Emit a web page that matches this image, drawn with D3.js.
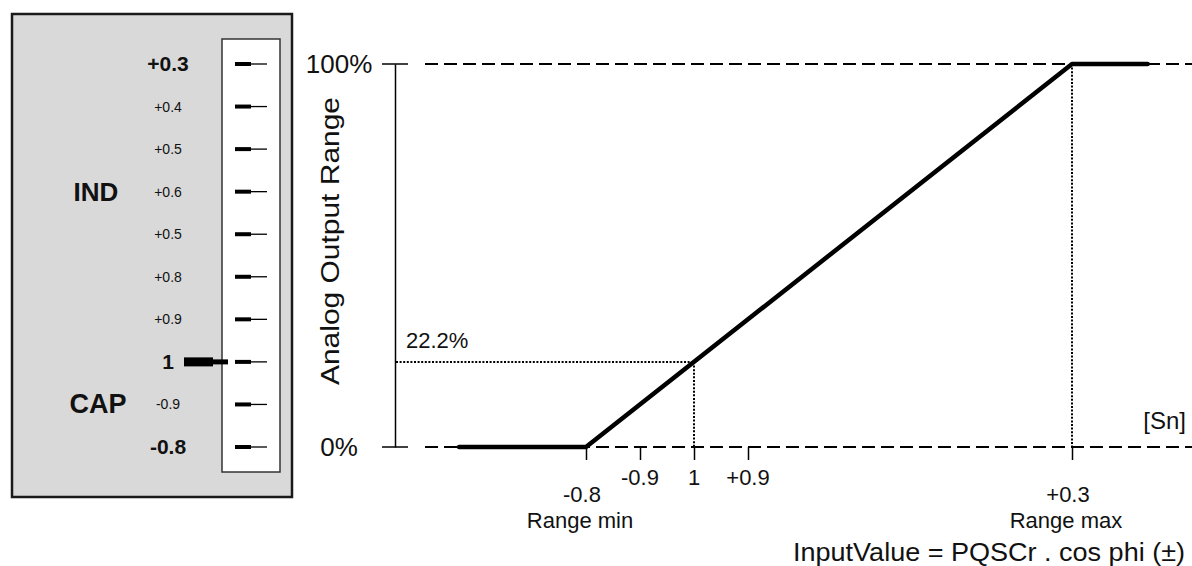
<!DOCTYPE html>
<html>
<head>
<meta charset="utf-8">
<script src="https://cdn.jsdelivr.net/npm/d3@7"></script>
<style>
  html, body { margin: 0; padding: 0; background: #fff; }
  svg { display: block; font-family: "Liberation Sans", Arial, Helvetica, sans-serif; }
</style>
</head>
<body>
<svg id="chart" width="1192" height="566"></svg>
<script>
// ---------------- data ----------------
// Selector scale (left panel), top to bottom
const scaleLabels = ["+0.3", "+0.4", "+0.5", "+0.6", "+0.5", "+0.8", "+0.9", "1", "-0.9", "-0.8"];
const scaleBold   = [true, false, false, false, false, false, false, true, false, true];
const selectedLabel = "1";
const groupLabels = ["IND", "CAP"];
const groupAt     = ["+0.6", "-0.9"];

// Main chart: normalized input position for each cos phi tick
const xTickPos    = [-0.2, -0.1, 0, 0.1, 0.7];
const xTickLabels = ["-0.8", "-0.9", "1", "+0.9", "+0.3"];
const xSubLabels  = ["Range min", "", "", "", "Range max"];
const xLowLabel   = [true, false, false, false, true];

// Output curve (input position -> % of analog output)
const curveX = [-0.435, -0.2, 0.7, 0.84];
const curveY = [0, 0, 100, 100];

const yTickValues = [0, 100];
const yTickLabels = ["0%", "100%"];

const markX = 0;       // cos phi = 1
const markY = 22.2;    // %
const markLabel = "22.2%";

// ---------------- drawing ----------------
const svg = d3.select("#chart");

// Left panel
const rowY = d3.scalePoint().domain(scaleLabels.map((d, i) => i)).range([64, 447]);

svg.append("rect").attr("x", 12).attr("y", 14).attr("width", 280).attr("height", 483)
  .attr("fill", "#d9d9d9").attr("stroke", "#1a1a1a").attr("stroke-width", 2.5);
svg.append("rect").attr("x", 222).attr("y", 39).attr("width", 58).attr("height", 433)
  .attr("fill", "#fff").attr("stroke", "#333").attr("stroke-width", 1.5);

const rows = svg.append("g").selectAll("g").data(scaleLabels).join("g")
  .attr("transform", (d, i) => `translate(0,${rowY(i)})`);
rows.append("rect").attr("x", 235).attr("y", -2).attr("width", 16).attr("height", 4).attr("fill", "#000");
rows.append("line").attr("x1", 251).attr("x2", 267).attr("y1", 0).attr("y2", 0)
  .attr("stroke", "#000").attr("stroke-width", 1.3);
rows.append("text").attr("x", 168).attr("y", (d, i) => scaleBold[i] ? 7 : 5)
  .attr("text-anchor", "middle")
  .attr("font-size", (d, i) => scaleBold[i] ? 21 : 14)
  .attr("font-weight", (d, i) => scaleBold[i] ? "bold" : "normal")
  .attr("fill", "#111")
  .text(d => d);

// pointer at the selected value
const selY = rowY(scaleLabels.indexOf(selectedLabel));
svg.append("rect").attr("x", 184).attr("y", selY - 4.5).attr("width", 29).attr("height", 9).attr("fill", "#000");
svg.append("rect").attr("x", 212).attr("y", selY - 2.5).attr("width", 16).attr("height", 5).attr("fill", "#000");

svg.append("g").selectAll("text").data(groupLabels).join("text")
  .attr("x", (d, i) => i ? 98 : 96).attr("y", (d, i) => rowY(scaleLabels.indexOf(groupAt[i])) + 9)
  .attr("text-anchor", "middle").attr("font-size", (d, i) => i ? 27 : 26)
  .attr("font-weight", "bold").attr("fill", "#111")
  .text(d => d);

// Main chart
const x = d3.scaleLinear().domain([-0.2, 0.7]).range([586, 1072]);
const y = d3.scaleLinear().domain([0, 100]).range([447, 64]);

// dashed reference lines at 0% and 100%
svg.append("g").selectAll("line").data(yTickValues).join("line")
  .attr("x1", 425).attr("x2", 1192).attr("y1", d => y(d)).attr("y2", d => y(d))
  .attr("stroke", "#000").attr("stroke-width", 2.2).attr("stroke-dasharray", "13,6");

// y axis
const yAxis = d3.axisLeft(y).tickValues(yTickValues).tickSize(0).tickFormat("");
const gy = svg.append("g").attr("transform", "translate(395,0)").call(yAxis);
gy.select(".domain").attr("stroke", "#000").attr("stroke-width", 1.5);
svg.append("g").selectAll("line").data(yTickValues).join("line")
  .attr("x1", 382).attr("x2", 408).attr("y1", d => y(d)).attr("y2", d => y(d))
  .attr("stroke", "#000").attr("stroke-width", 1.5);
svg.append("g").selectAll("text").data(yTickValues).join("text")
  .attr("x", 339).attr("y", d => y(d) + 9)
  .attr("text-anchor", "middle").attr("font-size", 26).attr("fill", "#111")
  .text((d, i) => yTickLabels[i]);

svg.append("text").attr("transform", "translate(339,241) rotate(-90)")
  .attr("text-anchor", "middle").attr("font-size", 26).attr("fill", "#111")
  .attr("textLength", 288).attr("lengthAdjust", "spacingAndGlyphs")
  .text("Analog Output Range");

// dotted guides
const dot = { stroke: "#000", "stroke-width": 2, "stroke-dasharray": "2,1.6" };
function dotted(x1, y1, x2, y2) {
  const l = svg.append("line").attr("x1", x1).attr("y1", y1).attr("x2", x2).attr("y2", y2);
  Object.entries(dot).forEach(([k, v]) => l.attr(k, v));
}
dotted(396, y(markY), x(markX), y(markY));
dotted(x(markX), y(markY), x(markX), y(0));
dotted(x(0.7), y(100), x(0.7), y(0));

svg.append("text").attr("x", 406).attr("y", y(markY) - 14)
  .attr("font-size", 22).attr("fill", "#111").text(markLabel);

// x axis ticks (below the 0% line)
const xAxis = d3.axisBottom(x).tickValues(xTickPos).tickSize(13).tickFormat("");
const gx = svg.append("g").attr("transform", `translate(0,${y(0)})`).call(xAxis);
gx.select(".domain").remove();
gx.selectAll(".tick line").attr("stroke", "#000").attr("stroke-width", 1.5);

svg.append("g").selectAll("text").data(xTickPos).join("text")
  .attr("x", (d, i) => x(d) + (xLowLabel[i] ? -4 : 0))
  .attr("y", (d, i) => xLowLabel[i] ? 502 : 485)
  .attr("text-anchor", "middle").attr("font-size", 22).attr("fill", "#111")
  .text((d, i) => xTickLabels[i]);
svg.append("g").selectAll("text").data(xTickPos.filter((d, i) => xSubLabels[i])).join("text")
  .attr("x", d => x(d) - 6).attr("y", 528)
  .attr("text-anchor", "middle").attr("font-size", 22).attr("fill", "#111")
  .text(d => xSubLabels[xTickPos.indexOf(d)]);

svg.append("text").attr("x", 1186).attr("y", 429).attr("text-anchor", "end")
  .attr("font-size", 24).attr("fill", "#111").text("[Sn]");
svg.append("text").attr("x", 989).attr("y", 561).attr("text-anchor", "middle")
  .attr("font-size", 26).attr("fill", "#111")
  .attr("textLength", 392).attr("lengthAdjust", "spacingAndGlyphs")
  .text("InputValue = PQSCr . cos phi (±)");

// output curve
const line = d3.line().x(d => x(d[0])).y(d => y(d[1]));
svg.append("path").datum(curveX.map((v, i) => [v, curveY[i]]))
  .attr("d", line).attr("fill", "none").attr("stroke", "#000")
  .attr("stroke-width", 4.5).attr("stroke-linejoin", "round").attr("stroke-linecap", "round");
</script>
</body>
</html>
